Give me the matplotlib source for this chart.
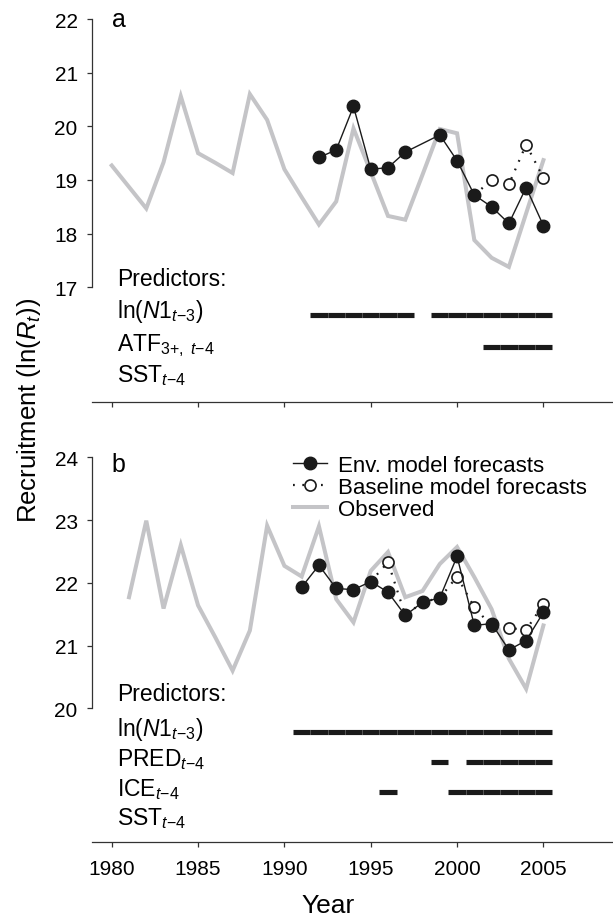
import matplotlib
matplotlib.use('Agg')
import matplotlib.pyplot as plt
import numpy as np

plt.rcParams['font.family'] = ['Liberation Sans', 'DejaVu Sans']
plt.rcParams['mathtext.fontset'] = 'custom'
plt.rcParams['mathtext.rm'] = 'Liberation Sans'
plt.rcParams['mathtext.it'] = 'Liberation Sans:italic'
plt.rcParams['mathtext.bf'] = 'Liberation Sans:bold'

# panel a data
obs_a_years = np.arange(1980, 2006)
obs_a = [19.27, 18.87, 18.47, 19.33, 20.56, 19.50, 19.32, 19.13, 20.60, 20.12,
         19.20, 18.68, 18.17, 18.60, 19.96, 19.15, 18.33, 18.26, 19.10, 19.95,
         19.87, 17.88, 17.55, 17.38, 18.38, 19.37]
env_a_years = [1992, 1993, 1994, 1995, 1996, 1997, 1999, 2000, 2001, 2002, 2003, 2004, 2005]
env_a = [19.42, 19.56, 20.37, 19.20, 19.23, 19.52, 19.84, 19.36, 18.72, 18.50, 18.19, 18.86, 18.15]
base_a_years = [2001, 2002, 2003, 2004, 2005]
base_a = [18.72, 19.00, 18.92, 19.66, 19.04]
pred_a_labels = [r'ln($\mathit{N1}_{t{-}3}$)', r'ATF$_{\mathrm{3{+},}\ t{-}4}$', r'SST$_{t{-}4}$']
pred_a_years = [[1992, 1993, 1994, 1995, 1996, 1997, 1999, 2000, 2001, 2002, 2003, 2004, 2005],
                [2002, 2003, 2004, 2005],
                []]

# panel b data
obs_b_years = np.arange(1981, 2006)
obs_b = [21.77, 22.99, 21.59, 22.60, 21.64, 21.13, 20.60, 21.24, 22.91, 22.27,
         22.10, 22.90, 21.74, 21.37, 22.19, 22.49, 21.77, 21.87, 22.30, 22.57,
         22.09, 21.58, 20.79, 20.31, 21.32]
env_b_years = np.arange(1991, 2006)
env_b = [21.93, 22.28, 21.91, 21.89, 22.02, 21.85, 21.48, 21.69, 21.76, 22.42,
         21.32, 21.35, 20.93, 21.08, 21.53]
base_b_years = np.arange(1995, 2006)
base_b = [22.02, 22.33, 21.48, 21.69, 21.76, 22.10, 21.61, 21.31, 21.28, 21.25, 21.66]
pred_b_labels = [r'ln($\mathit{N1}_{t{-}3}$)', r'PRED$_{t{-}4}$', r'ICE$_{t{-}4}$', r'SST$_{t{-}4}$']
pred_b_years = [list(range(1991, 2006)),
                [1999, 2001, 2002, 2003, 2004, 2005],
                [1996, 2000, 2001, 2002, 2003, 2004, 2005],
                []]

BLACK = '#1a1a1a'
GREY = '#c4c4c7'
XLIM = (1978.84, 2009.03)


def draw_panel(ax, yrs_obs, obs, yrs_env, env, yrs_base, base, ylim, ybounds,
               letter, letter_y, labels, bars, rows):
    ax.plot(yrs_obs, obs, color=GREY, lw=2.9, solid_joinstyle='miter', zorder=1,
            label='Observed')
    ax.plot(yrs_base, base, color=BLACK, lw=1.6, linestyle=(0, (0.8, 3.4)),
            marker='o', ms=8, mfc='white', mec=BLACK, mew=1.2, zorder=2,
            label='Baseline model forecasts')
    ax.plot(yrs_env, env, color=BLACK, lw=1.0, marker='o', ms=9, mfc=BLACK,
            mec=BLACK, zorder=3, label='Env. model forecasts')

    # predictor rows, one short bar per forecast year
    ax.text(1980.3, rows[0], 'Predictors:', fontsize=16.5, va='baseline', ha='left')
    for lab, yrs, y in zip(labels, bars, rows[1:]):
        ax.text(1980.3, y, lab, fontsize=16.5, va='baseline', ha='left')
        for yr in yrs:
            ax.plot([yr - 0.5, yr + 0.5], [y + 0.05, y + 0.05], color=BLACK, lw=3.7,
                    solid_capstyle='butt', zorder=2)

    ax.text(1980.0, letter_y, letter, fontsize=18, va='baseline', ha='left')

    ax.set_xlim(*XLIM)
    ax.set_ylim(*ylim)
    ax.set_yticks(np.arange(ybounds[0], ybounds[1] + 1))
    ax.set_xticks(np.arange(1980, 2006, 5))
    ax.spines['top'].set_visible(False)
    ax.spines['right'].set_visible(False)
    ax.spines['left'].set_bounds(*ybounds)
    for s in ('left', 'bottom'):
        ax.spines[s].set_linewidth(0.9)
        ax.spines[s].set_color('#333333')
    ax.tick_params(direction='out', length=3.6, width=0.9, color='#333333',
                   labelsize=15, pad=6.5)


fig = plt.figure(figsize=(6.13, 9.2), dpi=100)
ax_a = fig.add_axes([0.1496, 0.5615, 0.8504, 0.4276])
ax_b = fig.add_axes([0.1496, 0.0837, 0.8504, 0.4326])

draw_panel(ax_a, obs_a_years, obs_a, env_a_years, env_a, base_a_years, base_a,
           (14.855, 22.186), (17, 22), 'a', 21.87, pred_a_labels, pred_a_years,
           [17.04, 16.44, 15.83, 15.25])
ax_a.tick_params(axis='x', labelbottom=False)

draw_panel(ax_b, obs_b_years, obs_b, env_b_years, env_b, base_b_years, base_b,
           (17.869, 24.212), (20, 24), 'b', 23.775, pred_b_labels, pred_b_years,
           [20.14, 19.58, 19.10, 18.62, 18.16])
ax_b.tick_params(axis='x', pad=9)

h, l = ax_b.get_legend_handles_labels()
order = [2, 1, 0]
ax_b.legend([h[i] for i in order], [l[i] for i in order], loc='upper left',
            bbox_to_anchor=(292.6 / 613, 1 - 456 / 920), bbox_transform=fig.transFigure,
            frameon=False, fontsize=16, borderpad=0, borderaxespad=0,
            handlelength=1.55, handletextpad=0.5, labelspacing=0.05, numpoints=1)

fig.text(0.047, 0.5533, r'Recruitment (ln($R_t$))', rotation=90, fontsize=18.5,
         ha='center', va='center')
fig.text(0.535, 0.0075, 'Year', fontsize=19, ha='center', va='baseline')

fig.savefig('out.png', dpi=100)
